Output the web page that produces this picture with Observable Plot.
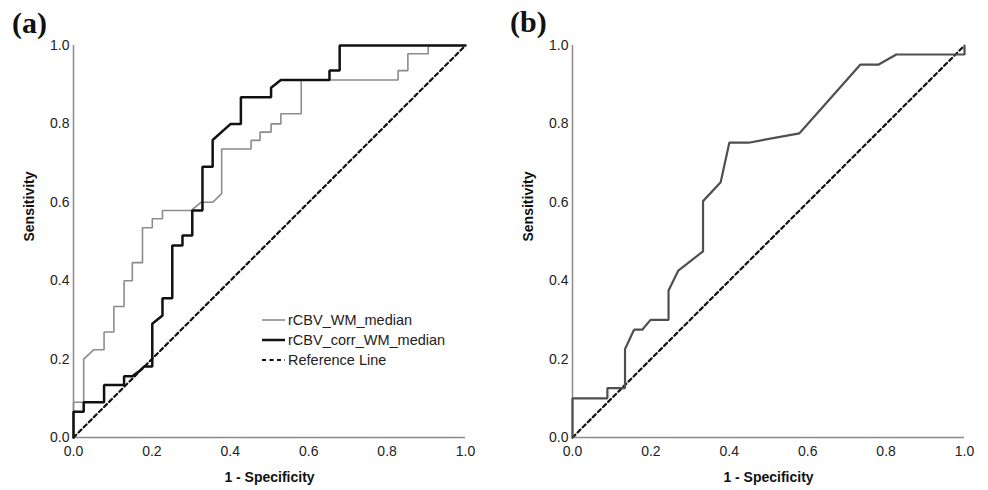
<!DOCTYPE html>
<html>
<head>
<meta charset="utf-8">
<script src="https://cdn.jsdelivr.net/npm/d3@7"></script>
<script src="https://cdn.jsdelivr.net/npm/@observablehq/plot@0.6"></script>
<style>
  body { margin: 0; background: #fff; }
  #wrap { position: relative; width: 988px; height: 490px; background: #fff; font-family: 'Liberation Sans', Arial, sans-serif; }
  .panel { position: absolute; top: 0; }
  .plabel { position: absolute; font-family: 'Liberation Serif', 'Times New Roman', serif; font-weight: bold; font-size: 30px; color: #111; line-height: 1; }
  #legend { position: absolute; left: 262px; top: 310px; font-size: 14.5px; color: #222; }
  #legend .row { display: flex; align-items: center; height: 20px; }
  #legend svg { display: block; margin-right: 2px; }
</style>
</head>
<body>
<div id="wrap">
  <div class="panel" id="pa" style="left:0px"></div>
  <div class="panel" id="pb" style="left:494px"></div>
  <div class="plabel" style="left:12px; top:8px">(a)</div>
  <div class="plabel" style="left:510px; top:7px">(b)</div>
  <div id="legend"></div>
</div>
<script>
// ---- Data ----
const tickValues = [0, 0.2, 0.4, 0.6, 0.8, 1.0];

// Panel (a): rCBV_WM_median (gray)
const wmFpr = [0,0,0.026,0.026,0.052,0.078,0.078,0.103,0.103,0.129,0.129,0.15,0.15,0.176,0.176,0.201,0.201,0.227,0.227,0.30,0.325,0.355,0.378,0.378,0.453,0.453,0.476,0.476,0.504,0.504,0.529,0.529,0.581,0.581,0.828,0.828,0.853,0.853,0.905,0.905,1.0];
const wmTpr = [0,0.09,0.09,0.20,0.224,0.224,0.269,0.269,0.334,0.334,0.40,0.40,0.446,0.446,0.535,0.535,0.558,0.558,0.579,0.579,0.60,0.60,0.622,0.736,0.736,0.758,0.758,0.779,0.779,0.80,0.80,0.826,0.826,0.912,0.912,0.936,0.936,0.979,0.979,1.0,1.0];

// Panel (a): rCBV_corr_WM_median (black)
const corrFpr = [0,0,0.026,0.026,0.078,0.078,0.129,0.129,0.15,0.17,0.18,0.201,0.201,0.227,0.227,0.252,0.252,0.278,0.278,0.303,0.303,0.329,0.329,0.355,0.355,0.401,0.427,0.427,0.504,0.504,0.529,0.653,0.653,0.679,0.679,1.0];
const corrTpr = [0,0.066,0.066,0.09,0.09,0.134,0.134,0.156,0.156,0.171,0.181,0.181,0.29,0.311,0.355,0.355,0.49,0.49,0.515,0.515,0.579,0.579,0.691,0.691,0.759,0.80,0.80,0.868,0.868,0.892,0.912,0.912,0.936,0.936,1.0,1.0];

// Panel (b): single ROC curve
const bFpr = [0,0,0.089,0.089,0.134,0.134,0.157,0.178,0.199,0.245,0.245,0.27,0.333,0.333,0.378,0.40,0.449,0.579,0.734,0.78,0.826,1.0,1.0];
const bTpr = [0,0.1,0.1,0.126,0.126,0.226,0.275,0.275,0.30,0.30,0.375,0.426,0.475,0.603,0.651,0.752,0.752,0.776,0.951,0.951,0.977,0.977,1.0];

// Reference (chance) line
const refX = [0, 1];
const refY = [0, 1];

const legendLabels = ["rCBV_WM_median", "rCBV_corr_WM_median", "Reference Line"];

// ---- Helpers ----
const toPts = (xs, ys) => xs.map((x, i) => ({x, y: ys[i]}));
const axisColor = "#8a8a8a";
const fontFamily = "'Liberation Sans', Arial, sans-serif";

function panel(curves, marginLeft, marginRight) {
  return Plot.plot({
    width: 494, height: 490,
    marginLeft, marginRight, marginTop: 45, marginBottom: 53,
    style: { fontFamily, fontSize: "14px", color: "#222", background: "#fff", overflow: "visible" },
    x: { domain: [0, 1] },
    y: { domain: [0, 1] },
    marks: [
      Plot.axisX({ ticks: tickValues, tickFormat: d => d.toFixed(1), tickSize: 0, tickPadding: 9, fontSize: 14, label: null }),
      Plot.axisY({ ticks: tickValues, tickFormat: d => d.toFixed(1), tickSize: 0, tickPadding: 4, fontSize: 14, label: null }),
      Plot.ruleY([0], { stroke: axisColor, strokeWidth: 1.5 }),
      Plot.ruleX([0], { stroke: axisColor, strokeWidth: 1.5 }),
      Plot.line(toPts(refX, refY), { x: "x", y: "y", stroke: "#111", strokeWidth: 2.2, strokeDasharray: "4,3.2" }),
      ...curves.map(c => Plot.line(toPts(c.xs, c.ys), { x: "x", y: "y", stroke: c.color, strokeWidth: c.w, strokeLinejoin: "miter" })),
      Plot.text(["Sensitivity"], { text: d => d, frameAnchor: "left", rotate: -90, dx: -44, fontWeight: "bold", fontSize: 14, fill: "#111" }),
      Plot.text(["1 - Specificity"], { text: d => d, frameAnchor: "bottom", dy: 44, fontWeight: "bold", fontSize: 14, fill: "#111" })
    ]
  });
}

document.getElementById("pa").appendChild(panel([
  { xs: wmFpr, ys: wmTpr, color: "#8c8c8c", w: 1.6 },
  { xs: corrFpr, ys: corrTpr, color: "#111", w: 2.5 }
], 73, 29));

document.getElementById("pb").appendChild(panel([
  { xs: bFpr, ys: bTpr, color: "#4f4f4f", w: 2.2 }
], 78, 24));

// Legend (HTML)
const legendStyles = [
  { color: "#8c8c8c", w: 1.6, dash: null },
  { color: "#111", w: 2.5, dash: null },
  { color: "#111", w: 2, dash: "4,3.5" }
];
const legend = document.getElementById("legend");
legendLabels.forEach((lab, i) => {
  const s = legendStyles[i];
  const row = document.createElement("div");
  row.className = "row";
  row.innerHTML = `<svg width="24" height="10"><line x1="0" x2="23" y1="5" y2="5" stroke="${s.color}" stroke-width="${s.w}" ${s.dash ? `stroke-dasharray="${s.dash}"` : ""}/></svg><span>${lab}</span>`;
  legend.appendChild(row);
});
</script>
</body>
</html>
